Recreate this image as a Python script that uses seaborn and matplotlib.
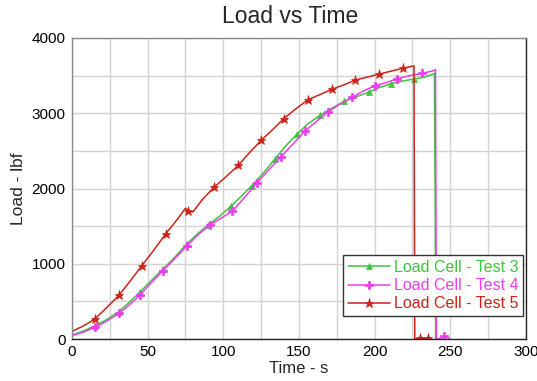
import numpy as np
import pandas as pd
from matplotlib import pyplot as plt
from matplotlib.ticker import MultipleLocator
import seaborn as sns

# Test 3 (green)
t3 = [0, 8, 15, 23, 31, 38, 45, 52, 60, 68, 76, 83, 90, 98, 105, 112, 119, 127, 134, 141,
      149, 156, 164, 172, 180, 188, 196, 203, 211, 219, 226, 233, 238.5, 239.5, 240, 240.3]
load3 = [55, 110, 175, 260, 365, 490, 625, 770, 925, 1090, 1265, 1400, 1515, 1640, 1765, 1900, 2040, 2220, 2390, 2560,
         2730, 2860, 2975, 3070, 3160, 3220, 3280, 3340, 3395, 3430, 3455, 3480, 3520, 3530, 1750, 0]
marks3 = [2, 4, 6, 8, 10, 12, 14, 16, 18, 20, 22, 24, 26, 28, 30]

# Test 4 (magenta)
t4 = [0, 8, 15, 23, 31, 38, 45, 52, 60, 68, 76, 83, 91, 98, 106, 114, 122, 130, 138, 146,
      154, 162, 169, 177, 185, 192, 200, 208, 215, 223, 231, 238, 240.2, 240.8, 244, 246, 250]
load4 = [45, 95, 155, 240, 340, 455, 585, 740, 905, 1070, 1240, 1380, 1515, 1600, 1700, 1880, 2070, 2250, 2420, 2590,
         2765, 2900, 3015, 3120, 3210, 3290, 3365, 3410, 3460, 3500, 3530, 3560, 3580, 0, 10, 40, 0]
marks4 = [2, 4, 6, 8, 10, 12, 14, 16, 18, 20, 22, 24, 26, 28, 30, 35]

# Test 5 (red)
t5 = [0, 8, 15, 23, 31, 38, 46, 54, 62, 70, 75, 77, 80, 86, 94, 102, 110, 117, 125, 133,
      140, 148, 156, 164, 172, 180, 187, 195, 203, 211, 219, 226, 226.5, 230, 235]
load5 = [100, 180, 265, 420, 580, 760, 970, 1180, 1400, 1600, 1740, 1700, 1690, 1850, 2020, 2160, 2310, 2470, 2640, 2790,
         2930, 3060, 3180, 3250, 3320, 3380, 3440, 3480, 3520, 3560, 3600, 3630, 0, 15, 10]
marks5 = [2, 4, 6, 8, 11, 14, 16, 18, 20, 22, 24, 26, 28, 30, 33, 34]

series = [
    ("Load Cell - Test 3", t3, load3, marks3, "#3ec43e", "^", 4.8),
    ("Load Cell - Test 4", t4, load4, marks4, "#ee3cee", "P", 5.2),
    ("Load Cell - Test 5", t5, load5, marks5, "#cc2418", "*", 6.5),
]

sns.set_style("white")
plt.rcParams['font.family'] = ['Liberation Sans', 'DejaVu Sans']

fig = plt.figure(figsize=(5.37, 3.81), dpi=100)
ax = fig.add_axes([0.134, 0.110, 0.8455, 0.7903])

for label, t, load, marks, color, marker, ms in series:
    df = pd.DataFrame({"Time": t, "Load": load})
    sns.lineplot(data=df, x="Time", y="Load", ax=ax, color=color, lw=1.1,
                 marker=marker, markersize=ms, markeredgewidth=0.5, markevery=marks,
                 markeredgecolor=color, estimator=None, sort=False, label=label)

ax.set_xlim(0, 300)
ax.set_ylim(0, 4000)
ax.xaxis.set_major_locator(MultipleLocator(50))
ax.xaxis.set_minor_locator(MultipleLocator(25))
ax.yaxis.set_major_locator(MultipleLocator(1000))
ax.yaxis.set_minor_locator(MultipleLocator(500))
ax.grid(True, which="both", color="#d4d4d4", lw=1.0)
ax.set_axisbelow(True)
ax.tick_params(axis="both", which="major", labelsize=11, length=3, width=0.8,
               direction="out", pad=1.5, colors="#333333", labelcolor="black")
ax.tick_params(axis="both", which="minor", length=0)

for side in ["top", "left"]:
    ax.spines[side].set_color("#8a8a8a")
for side in ["right", "bottom"]:
    ax.spines[side].set_color("#222222")
for s in ax.spines.values():
    s.set_linewidth(1.0)

ax.set_xlabel("Time - s", fontsize=12, labelpad=1)
ax.set_ylabel("Load - lbf", fontsize=12.5, labelpad=4)
fig.text(290 / 537, 1 - 23 / 381, "Load vs Time", fontsize=16.5, ha="center", va="baseline")

leg = ax.legend(loc="lower right", bbox_to_anchor=(0.9934, 0.0764), borderaxespad=0,
                fontsize=11.5, fancybox=False, framealpha=1, edgecolor="#333333",
                handlelength=2.6, handletextpad=0.25, labelspacing=0.2, borderpad=0.3)
leg.get_frame().set_linewidth(1.0)
for txt, (_, _, _, _, color, _, _) in zip(leg.get_texts(), series):
    txt.set_color(color)

fig.savefig("out.png", dpi=100)
